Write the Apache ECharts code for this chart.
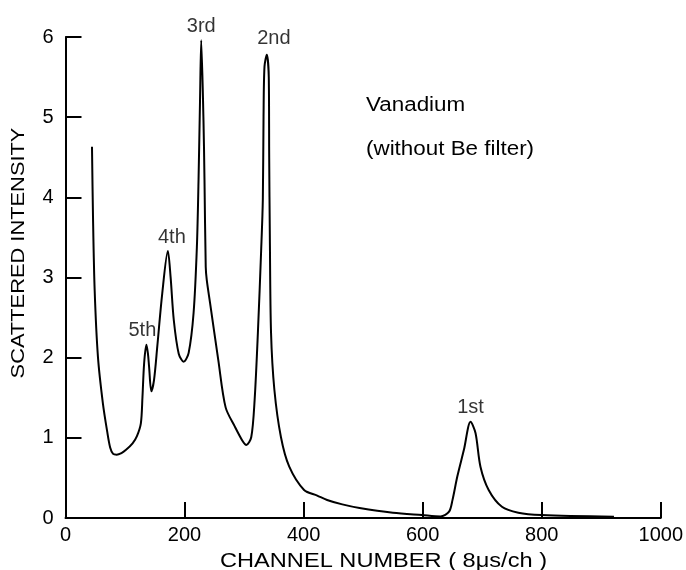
<!DOCTYPE html>
<html>
<head>
<meta charset="utf-8">
<script src="https://cdn.jsdelivr.net/npm/echarts@6/dist/echarts.min.js"></script>
<style>
  html, body { margin: 0; padding: 0; background: #fff; }
  #chart { width: 686px; height: 570px; }
</style>
</head>
<body>
<div id="chart"></div>
<script>
// spectrum: channel number / scattered intensity
var chX = [44.5, 46.2, 49.0, 54.5, 62.8, 70, 75, 80, 86, 94, 101.7, 112.7, 120, 126.6, 129.3, 132.1,
  135.9, 138.5, 140.4, 144.2, 148.7, 154.2, 162.5, 172.0, 176.5, 181.9, 190.2, 198.6, 206.9, 215.2,
  220.7, 223.5, 226.0, 228.0, 231.8, 233.5, 235.6, 237.3, 242.9, 256.7, 269, 284.5, 298.3, 303.8,
  312.1, 317.7, 323.2, 328.7, 331.5, 332.7, 334.3, 338.2, 341.5, 342.2, 343.3, 345.3, 350.9, 361.9,
  375.9, 400.8, 422.9, 439.5, 465, 494, 550, 599, 630, 644.4, 650, 658.3, 669.3, 680.5, 688.8, 697.1,
  710.9, 733.2, 760.7, 799.6, 921.4];
var chY = [4.63, 3.76, 2.84, 2.01, 1.43, 1.08, 0.88, 0.80, 0.79, 0.81, 0.85, 0.93, 1.02, 1.18, 1.51, 1.93,
  2.16, 2.05, 1.89, 1.58, 1.72, 2.14, 2.80, 3.33, 3.01, 2.47, 2.05, 1.95, 2.06, 2.56,
  3.38, 4.22, 5.21, 5.96, 4.96, 4.22, 3.13, 2.97, 2.68, 1.97, 1.38, 1.14, 0.95, 0.91,
  1.01, 1.47, 2.31, 3.34, 3.97, 5.01, 5.63, 5.78, 5.50, 4.50, 3.50, 2.31, 1.60, 1.01,
  0.64, 0.35, 0.28, 0.225, 0.17, 0.125, 0.066, 0.037, 0.02, 0.08, 0.22, 0.52, 0.85, 1.20, 1.06, 0.64,
  0.35, 0.14, 0.066, 0.037, 0.016];

// Bragg orders marked on the peaks
var peakNames = ['5th', '4th', '3rd', '2nd', '1st'];
var peakX = [135.9, 172.0, 228.0, 338.2, 680.5];
var peakY = [2.16, 3.33, 5.96, 5.78, 1.20];

var xTicks = [0, 200, 400, 600, 800, 1000];
var yTicks = [0, 1, 2, 3, 4, 5, 6];

var ink = '#000';
var font = 'Liberation Sans';
// small sideways nudges so labels sit like on the scan
var labelNudge = { '5th': [-4, 0], '4th': [4, 0], '2nd': [7, -2] };

var curve = chX.map(function (x, i) { return [x, chY[i]]; });
var peaks = peakNames.map(function (n, i) {
  return {
    name: n,
    value: [peakX[i], peakY[i]],
    label: { offset: labelNudge[n] || [0, 0] }
  };
});

var myChart = echarts.init(document.getElementById('chart'));
myChart.setOption({
  animation: false,
  backgroundColor: '#fff',
  grid: { left: 65.5, right: 18.7, top: 37, bottom: 52 },
  xAxis: {
    type: 'value',
    min: xTicks[0],
    max: xTicks[xTicks.length - 1],
    interval: 200,
    axisLine: { lineStyle: { color: ink, width: 2 } },
    axisTick: { inside: true, length: 16, lineStyle: { color: ink, width: 2 } },
    splitLine: { show: false },
    axisLabel: { color: ink, fontSize: 20, fontFamily: font, margin: 7,
      formatter: function (v) { return String(v); } }
  },
  yAxis: {
    type: 'value',
    min: yTicks[0],
    max: yTicks[yTicks.length - 1],
    interval: 1,
    axisLine: { show: true, lineStyle: { color: ink, width: 2 } },
    axisTick: { show: true, inside: true, length: 16, lineStyle: { color: ink, width: 2 } },
    splitLine: { show: false },
    axisLabel: { color: ink, fontSize: 20, fontFamily: font, margin: 12 }
  },
  series: [
    {
      type: 'line',
      data: curve,
      showSymbol: false,
      smooth: 0.3,
      lineStyle: { color: ink, width: 2 },
      silent: true
    },
    {
      type: 'scatter',
      data: peaks,
      symbolSize: 0,
      silent: true,
      label: {
        show: true,
        position: 'top',
        distance: 4,
        formatter: '{b}',
        color: ink,
        fontSize: 20,
        fontFamily: font
      }
    }
  ],
  graphic: [
    {
      type: 'text', x: 18.5, y: 253, rotation: Math.PI / 2, scaleX: 1.15,
      style: { text: 'SCATTERED INTENSITY', x: 0, y: 0, align: 'center', verticalAlign: 'middle',
        fill: ink, fontSize: 19, fontFamily: font }
    },
    {
      type: 'text', x: 383.5, y: 561, scaleX: 1.18,
      style: { text: 'CHANNEL NUMBER ( 8\u03bcs/ch )', x: 0, y: 0, align: 'center', verticalAlign: 'middle',
        fill: ink, fontSize: 20, fontFamily: font }
    },
    {
      type: 'text', x: 366, y: 105.5, scaleX: 1.12,
      style: { text: 'Vanadium', x: 0, y: 0, align: 'left', verticalAlign: 'middle',
        fill: ink, fontSize: 20, fontFamily: font }
    },
    {
      type: 'text', x: 366, y: 149, scaleX: 1.12,
      style: { text: '(without Be filter)', x: 0, y: 0, align: 'left', verticalAlign: 'middle',
        fill: ink, fontSize: 20, fontFamily: font }
    }
  ]
});
</script>
</body>
</html>
